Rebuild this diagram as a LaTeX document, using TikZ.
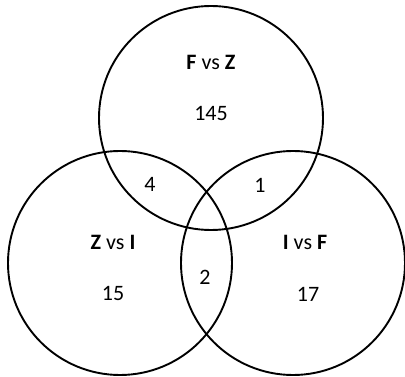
\documentclass[tikz,border=0pt]{standalone}
\usepackage{fontspec}
\setmainfont{Carlito}
\usepackage{tikz}
\tikzset{
  setring/.style={draw, line width=1.9pt, circle, minimum size=224pt, inner sep=0pt},
  setname/.style={font=\fontsize{22}{26}\selectfont},
  setcount/.style={font=\fontsize{22}{26}\selectfont}
}

\begin{document}
\begin{tikzpicture}[x=1pt, y=-1pt]
        \useasboundingbox (0,0) rectangle (405,377);

        % Kreise
        \node[setring] (fz) at (211,118) {};
        \node[setring] (zi) at (120,263) {};
        \node[setring] (if) at (293,263) {};

        % Namen
        \node[setname] (fzname) at (211,62) {\textbf{F} vs \textbf{Z}};
        \node[setname] (ziname) at (113,242) {\textbf{Z} vs \textbf{I}};
        \node[setname] (ifname) at (305,242) {\textbf{I} vs \textbf{F}};

        % Anzahlen
        \node[setcount] (fzonly) at (211,113) {145};
        \node[setcount] (zionly) at (113,293) {15};
        \node[setcount] (ifonly) at (308,294) {17};
        \node[setcount] (fzzi) at (150,184) {4};
        \node[setcount] (fzif) at (260,185) {1};
        \node[setcount] (ziif) at (205,277) {2};
    \end{tikzpicture}
\end{document}
